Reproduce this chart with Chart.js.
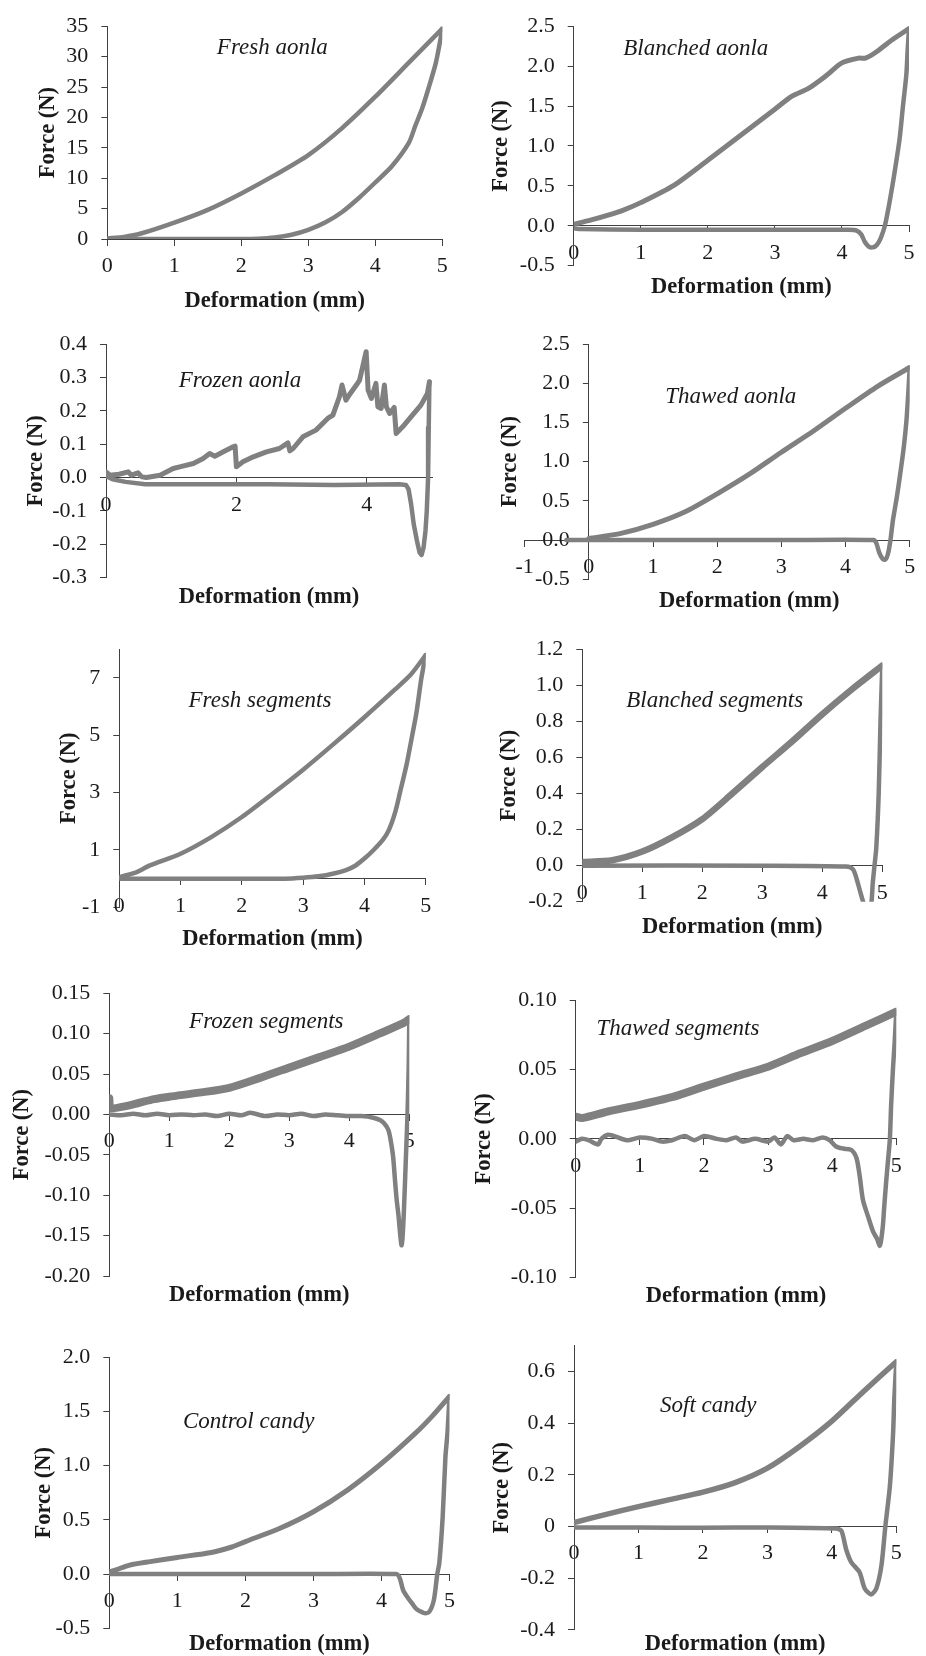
<!DOCTYPE html>
<html>
<head>
<meta charset="utf-8">
<script src="https://cdn.jsdelivr.net/npm/chart.js@4.4.1/dist/chart.umd.min.js"></script>
<style>
  html, body { margin: 0; padding: 0; background: #fff; }
  #page { position: relative; width: 926px; height: 1656px; }
  #page canvas { position: absolute; }
</style>
</head>
<body>
<div id="page"></div>
<script>
// -------------------------------
// DATA  [deformation (mm), force (N)]
// -------------------------------
const freshAonlaLoad = [[0,0.1],[0.25,0.35],[0.5,0.9],[1,2.7],[1.5,4.8],[2,7.5],[2.5,10.5],[3,13.8],[3.5,18.2],[4,23.4],[4.5,29],[4.75,31.8],[5,34.6]];
const freshAonlaUnload = [[5,34.6],[4.95,31.5],[4.9,28.8],[4.8,25],[4.7,21.5],[4.6,18.7],[4.5,15.8],[4.25,12],[4,9.3],[3.75,6.7],[3.5,4.4],[3.25,2.7],[3,1.5],[2.75,0.7],[2.5,0.25],[2.25,0.05],[2,0],[1,0],[0,0]];

const blanchedAonlaLoad = [[0,0.02],[0.25,0.07],[0.5,0.13],[0.75,0.2],[1,0.29],[1.5,0.51],[2,0.82],[2.5,1.14],[3,1.46],[3.25,1.62],[3.5,1.72],[3.75,1.87],[4,2.04],[4.25,2.1],[4.35,2.1],[4.5,2.17],[4.75,2.33],[5,2.47]];
const blanchedAonlaUnload = [[5,2.47],[4.98,2.2],[4.96,1.89],[4.91,1.5],[4.86,1.09],[4.8,0.75],[4.75,0.49],[4.7,0.25],[4.64,0],[4.58,-0.15],[4.52,-0.24],[4.46,-0.27],[4.4,-0.26],[4.34,-0.2],[4.29,-0.11],[4.22,-0.06],[4.1,-0.05],[3,-0.05],[2,-0.05],[1,-0.05],[0.1,-0.04],[0,-0.03]];

const frozenAonlaLoad = [[0,0.017],[0.06,0.007],[0.2,0.01],[0.34,0.017],[0.39,0.007],[0.49,0.014],[0.55,0.002],[0.62,0],[0.83,0.007],[1.03,0.027],[1.13,0.032],[1.34,0.042],[1.49,0.057],[1.59,0.072],[1.67,0.064],[1.8,0.077],[1.95,0.092],[1.98,0.094],[2,0.032],[2.1,0.047],[2.26,0.062],[2.46,0.077],[2.66,0.087],[2.79,0.104],[2.82,0.08],[2.87,0.087],[3.02,0.122],[3.22,0.142],[3.4,0.177],[3.48,0.187],[3.58,0.242],[3.62,0.277],[3.68,0.232],[3.73,0.247],[3.84,0.277],[3.89,0.292],[3.96,0.352],[3.99,0.377],[4.02,0.262],[4.07,0.237],[4.14,0.282],[4.17,0.212],[4.22,0.207],[4.27,0.277],[4.3,0.212],[4.35,0.192],[4.42,0.21],[4.45,0.132],[4.55,0.152],[4.7,0.187],[4.83,0.217],[4.93,0.252],[4.96,0.287]];
const frozenAonlaUnload = [[4.96,0.287],[4.95,0.15],[4.94,0],[4.92,-0.1],[4.9,-0.16],[4.87,-0.21],[4.84,-0.232],[4.81,-0.225],[4.77,-0.19],[4.72,-0.14],[4.68,-0.08],[4.64,-0.035],[4.6,-0.022],[4.5,-0.02],[3.5,-0.022],[2.5,-0.02],[1.5,-0.02],[0.6,-0.02],[0.3,-0.013],[0.1,-0.005],[0,0.005]];

const thawedAonlaLoad = [[0,0.02],[0.5,0.085],[1,0.2],[1.5,0.36],[2,0.59],[2.5,0.84],[3,1.12],[3.5,1.39],[4,1.68],[4.5,1.96],[5,2.2]];
const thawedAonlaUnload = [[5,2.2],[4.98,1.9],[4.95,1.53],[4.91,1.2],[4.86,0.89],[4.8,0.55],[4.74,0.26],[4.7,0],[4.66,-0.18],[4.62,-0.25],[4.58,-0.24],[4.53,-0.17],[4.48,-0.04],[4.44,0],[3,0],[1,0],[0,0],[-0.35,0]];

const freshSegLoad = [[0,0.05],[0.25,0.2],[0.5,0.46],[1,0.87],[1.5,1.45],[2,2.15],[2.5,2.96],[3,3.8],[3.5,4.7],[4,5.63],[4.5,6.6],[4.75,7.1],[5,7.8]];
const freshSegUnload = [[5,7.8],[4.93,7],[4.85,5.8],[4.78,5],[4.69,4],[4.58,3],[4.5,2.3],[4.4,1.7],[4.3,1.35],[4.15,1],[4,0.7],[3.85,0.45],[3.7,0.3],[3.5,0.18],[3.25,0.08],[3,0.03],[2.7,0],[0,0]];

const blanchedSegLoad = [[0,0.02],[0.5,0.03],[1,0.078],[1.5,0.158],[2,0.258],[2.5,0.4],[3,0.547],[3.5,0.69],[4,0.84],[4.5,0.98],[5,1.11]];
const blanchedSegUnload = [[5,1.11],[4.97,0.8],[4.94,0.4],[4.9,0.1],[4.87,0],[4.84,-0.1],[4.82,-0.2],[4.78,-0.24],[4.72,-0.23],[4.68,-0.2],[4.62,-0.13],[4.56,-0.06],[4.51,-0.02],[4.4,-0.005],[3,0],[0,0]];

const frozenSegLoad = [[0,0.02],[0.02,0.008],[0.25,0.01],[0.5,0.0145],[0.75,0.019],[1,0.022],[1.5,0.027],[2,0.033],[2.5,0.045],[3,0.058],[3.5,0.071],[4,0.084],[4.5,0.1],[4.9,0.113],[5,0.118]];
const frozenSegUnload = [[5,0.12],[4.99,0.06],[4.97,0],[4.94,-0.06],[4.91,-0.12],[4.885,-0.155],[4.87,-0.162],[4.85,-0.15],[4.82,-0.125],[4.79,-0.106],[4.76,-0.08],[4.73,-0.052],[4.69,-0.032],[4.65,-0.019],[4.58,-0.011],[4.51,-0.007],[4.4,-0.004],[4.2,-0.002],[4,-0.002],[3.8,-0.001],[3.6,0],[3.4,-0.002],[3.2,0.001],[3,-0.001],[2.8,0],[2.6,-0.002],[2.35,0.002],[2.2,-0.001],[2,0.001],[1.8,-0.002],[1.6,0],[1.4,-0.001],[1.2,0],[1,-0.001],[0.8,0.001],[0.6,-0.001],[0.4,0.001],[0.2,-0.001],[0,0]];

const thawedSegLoad = [[0,0.016],[0.1,0.015],[0.5,0.0197],[1,0.0245],[1.5,0.03],[2,0.0376],[2.5,0.045],[3,0.052],[3.5,0.0616],[4,0.0705],[4.5,0.081],[5,0.0916]];
const thawedSegUnload = [[5,0.092],[4.975,0.07],[4.95,0.052],[4.92,0.025],[4.9,0],[4.87,-0.016],[4.84,-0.032],[4.81,-0.05],[4.79,-0.063],[4.76,-0.074],[4.74,-0.077],[4.7,-0.072],[4.64,-0.067],[4.56,-0.056],[4.48,-0.044],[4.43,-0.027],[4.38,-0.014],[4.3,-0.008],[4.17,-0.007],[4.06,-0.0055],[3.96,-0.001],[3.85,0.001],[3.7,-0.001],[3.55,0],[3.4,-0.001],[3.3,0.002],[3.2,-0.004],[3.1,0.001],[3,-0.002],[2.8,0],[2.6,-0.002],[2.5,0.001],[2.35,-0.001],[2.2,0],[2,0.002],[1.85,-0.001],[1.7,0.002],[1.5,-0.001],[1.35,-0.002],[1.2,0],[1,0.001],[0.8,-0.001],[0.6,0.002],[0.5,0.003],[0.4,0],[0.35,-0.004],[0.2,-0.001],[0.1,0],[0,-0.002]];

const controlCandyLoad = [[0,0.02],[0.1,0.04],[0.3,0.083],[0.6,0.115],[1,0.154],[1.5,0.2],[1.8,0.25],[2,0.3],[2.5,0.42],[3,0.575],[3.5,0.775],[4,1.02],[4.5,1.3],[4.75,1.46],[5,1.64]];
const controlCandyUnload = [[5,1.64],[4.97,1.3],[4.94,1.08],[4.9,0.53],[4.85,0.1],[4.82,0],[4.77,-0.24],[4.7,-0.35],[4.63,-0.36],[4.56,-0.34],[4.51,-0.32],[4.45,-0.27],[4.39,-0.22],[4.32,-0.15],[4.27,-0.04],[4.22,0],[3,0],[0,0]];

const softCandyLoad = [[0,0.015],[0.5,0.047],[1,0.077],[1.5,0.105],[2,0.133],[2.5,0.17],[3,0.226],[3.5,0.31],[4,0.408],[4.5,0.525],[5,0.638]];
const softCandyUnload = [[5,0.638],[4.97,0.5],[4.95,0.36],[4.9,0.156],[4.83,0],[4.77,-0.15],[4.69,-0.24],[4.61,-0.263],[4.51,-0.24],[4.43,-0.177],[4.3,-0.138],[4.22,-0.087],[4.15,-0.017],[4.07,-0.008],[3,-0.004],[2,-0.005],[1,-0.004],[0,-0.004]];

// -------------------------------
// TICK LABELS
// -------------------------------
const xLabels = ['0','1','2','3','4','5'];
const xLabelsStep2 = ['0','2','4'];
const xLabelsFromMinus1 = ['-1','0','1','2','3','4','5'];

const freshAonlaY = ['0','5','10','15','20','25','30','35'];
const blanchedAonlaY = ['-0.5','0.0','0.5','1.0','1.5','2.0','2.5'];
const frozenAonlaY = ['-0.3','-0.2','-0.1','0.0','0.1','0.2','0.3','0.4'];
const thawedAonlaY = ['-0.5','0.0','0.5','1.0','1.5','2.0','2.5'];
const freshSegY = ['-1','1','3','5','7'];
const blanchedSegY = ['-0.2','0.0','0.2','0.4','0.6','0.8','1.0','1.2'];
const frozenSegY = ['-0.20','-0.15','-0.10','-0.05','0.00','0.05','0.10','0.15'];
const thawedSegY = ['-0.10','-0.05','0.00','0.05','0.10'];
const controlCandyY = ['-0.5','0.0','0.5','1.0','1.5','2.0'];
const softCandyY = ['-0.4','-0.2','0','0.2','0.4','0.6'];

// -------------------------------
// PANELS (box = canvas on page, area = plot area on page)
// -------------------------------
const panels = [
  { label: 'Fresh aonla', load: freshAonlaLoad, unload: freshAonlaUnload, xl: xLabels, yl: freshAonlaY,
    box: [0, 0, 463, 315], area: [107.3, 17.3, 442.3, 239], yTitleX: 48.3, xTitleY: 306.7, labelAt: [272.3, 54], widths: [4.5, 4.5], tension: 0.25 },
  { label: 'Blanched aonla', load: blanchedAonlaLoad, unload: blanchedAonlaUnload, xl: xLabels, yl: blanchedAonlaY,
    box: [463, 0, 463, 315], area: [573.7, 15.7, 909, 265.7], yTitleX: 501.3, xTitleY: 292.7, labelAt: [695.8, 55], widths: [5, 4.5], tension: 0.25 },
  { label: 'Frozen aonla', load: frozenAonlaLoad, unload: frozenAonlaUnload, xl: xLabelsStep2, xMax: 5, yl: frozenAonlaY,
    box: [0, 315, 463, 300], area: [106, 344, 432, 577.7], yTitleX: 35.7, xTitleY: 603.3, labelAt: [240, 386.7], widths: [5, 4.5], tension: 0 },
  { label: 'Thawed aonla', load: thawedAonlaLoad, unload: thawedAonlaUnload, xl: xLabelsFromMinus1, yl: thawedAonlaY,
    box: [463, 315, 463, 300], area: [524.7, 344, 909.7, 579.3], yTitleX: 509.7, xTitleY: 606.7, labelAt: [730.8, 403.3], widths: [5, 4.5], tension: 0.25 },
  { label: 'Fresh segments', load: freshSegLoad, unload: freshSegUnload, xl: xLabels, yl: freshSegY, yMax: 8,
    box: [0, 615, 463, 340], area: [119.3, 649.3, 425.7, 907.3], yTitleX: 69, xTitleY: 945, labelAt: [260, 707.3], widths: [4.5, 4.5], tension: 0.25 },
  { label: 'Blanched segments', load: blanchedSegLoad, unload: blanchedSegUnload, xl: xLabels, yl: blanchedSegY,
    box: [463, 615, 463, 340], area: [582.3, 649.3, 882.3, 901.7], yTitleX: 508.7, xTitleY: 932.7, labelAt: [714.7, 707.3], widths: [6.5, 4.5], tension: 0.25 },
  { label: 'Frozen segments', load: frozenSegLoad, unload: frozenSegUnload, xl: xLabels, yl: frozenSegY,
    box: [0, 955, 463, 355], area: [109.3, 993.3, 409.3, 1276], yTitleX: 22, xTitleY: 1301, labelAt: [266.3, 1028.3], widths: [8, 4.5], tension: 0.25 },
  { label: 'Thawed segments', load: thawedSegLoad, unload: thawedSegUnload, xl: xLabels, yl: thawedSegY,
    box: [463, 955, 463, 355], area: [575.7, 1000, 896.3, 1277.7], yTitleX: 483.7, xTitleY: 1302, labelAt: [678, 1035], widths: [8, 4.5], tension: 0.25 },
  { label: 'Control candy', load: controlCandyLoad, unload: controlCandyUnload, xl: xLabels, yl: controlCandyY,
    box: [0, 1310, 463, 346], area: [109.3, 1357.3, 455.7, 1628.3], yTitleX: 44, xTitleY: 1650, labelAt: [248.7, 1428.3], widths: [5, 4.5], tension: 0.25 },
  { label: 'Soft candy', load: softCandyLoad, unload: softCandyUnload, xl: xLabels, yl: softCandyY, yMax: 0.7,
    box: [463, 1310, 463, 346], area: [574, 1345.7, 896.3, 1631], yTitleX: 502, xTitleY: 1650, labelAt: [708.3, 1411.7], widths: [5.5, 4.5], tension: 0.25 }
];

const GREY = '#808080';
const AXIS = '#404040';
const INK = '#1a1a1a';
const FONT = '"Liberation Serif", "Times New Roman", serif';

Chart.defaults.font.family = FONT;
Chart.defaults.font.size = 22;
Chart.defaults.color = INK;

// y axis sits at x = 0, axis titles and italic sample name
const panelText = {
  id: 'panelText',
  afterLayout(chart) {
    // labels are clipped to the scale box, so open it up to the canvas edge
    const px = chart.scales.x.getPixelForValue(0);
    chart.scales.y.left = 0;
    chart.scales.y.right = px;
  },
  afterDraw(chart, args, o) {
    const ctx = chart.ctx;
    const xs = chart.scales.x;
    const a = chart.chartArea;
    ctx.save();
    ctx.fillStyle = INK;
    ctx.textAlign = 'center';
    ctx.font = 'bold 22.5px ' + FONT;
    ctx.textBaseline = 'alphabetic';
    const midX = (xs.getPixelForValue(0) + xs.getPixelForValue(xs.max)) / 2;
    ctx.fillText('Deformation (mm)', midX, o.xTitleY - o.oy);

    ctx.save();
    ctx.translate(o.yTitleX - o.ox, (a.top + a.bottom) / 2);
    ctx.rotate(-Math.PI / 2);
    ctx.textBaseline = 'middle';
    ctx.fillText('Force (N)', 0, 0);
    ctx.restore();

    ctx.font = 'italic 23px ' + FONT;
    ctx.fillText(o.label, o.labelAt[0] - o.ox, o.labelAt[1] - o.oy);
    ctx.restore();
  }
};

const page = document.getElementById('page');

panels.forEach(p => {
  const [bx, by, bw, bh] = p.box;
  const [L, T, R, B] = p.area;
  const canvas = document.createElement('canvas');
  canvas.width = bw;
  canvas.height = bh;
  canvas.style.left = bx + 'px';
  canvas.style.top = by + 'px';
  canvas.style.width = bw + 'px';
  canvas.style.height = bh + 'px';
  page.appendChild(canvas);

  const xVals = p.xl.map(Number);
  const yVals = p.yl.map(Number);
  const toPts = arr => arr.map(d => ({ x: d[0], y: d[1] }));

  const axisCommon = {
    type: 'linear',
    grid: { drawOnChartArea: false, drawTicks: true, tickLength: 6, color: AXIS, tickColor: AXIS, lineWidth: 1 },
    border: { display: true, color: AXIS, width: 1 }
  };

  new Chart(canvas, {
    type: 'scatter',
    data: {
      datasets: [
        { data: toPts(p.load), showLine: true, borderColor: GREY, borderWidth: p.widths[0], pointRadius: 0,
          tension: p.tension, borderJoinStyle: 'round', borderCapStyle: 'round' },
        { data: toPts(p.unload), showLine: true, borderColor: GREY, borderWidth: p.widths[1], pointRadius: 0,
          tension: p.tension, borderJoinStyle: 'round', borderCapStyle: 'round' }
      ]
    },
    options: {
      responsive: false,
      animation: false,
      events: [],
      layout: { padding: { left: L - bx, top: T - by, right: bx + bw - R, bottom: by + bh - B } },
      plugins: {
        legend: { display: false },
        tooltip: { enabled: false },
        panelText: { label: p.label, yTitleX: p.yTitleX, xTitleY: p.xTitleY, labelAt: p.labelAt, ox: bx, oy: by }
      },
      scales: {
        x: Object.assign({}, axisCommon, {
          position: { y: 0 },
          min: xVals[0],
          max: p.xMax !== undefined ? p.xMax : xVals[xVals.length - 1],
          afterFit: s => { s.height = 0; },
          afterBuildTicks: s => { s.ticks = xVals.map(v => ({ value: v })); },
          ticks: { callback: (v, i) => p.xl[i], padding: 8, maxRotation: 0, autoSkip: false, color: INK }
        }),
        y: Object.assign({}, axisCommon, {
          position: 'left',
          min: yVals[0],
          max: p.yMax !== undefined ? p.yMax : yVals[yVals.length - 1],
          afterFit: s => { s.width = 0; },
          afterBuildTicks: s => { s.ticks = yVals.map(v => ({ value: v })); },
          ticks: { callback: (v, i) => p.yl[i], padding: 13, autoSkip: false, color: INK }
        })
      }
    },
    plugins: [panelText]
  });
});
</script>
</body>
</html>
